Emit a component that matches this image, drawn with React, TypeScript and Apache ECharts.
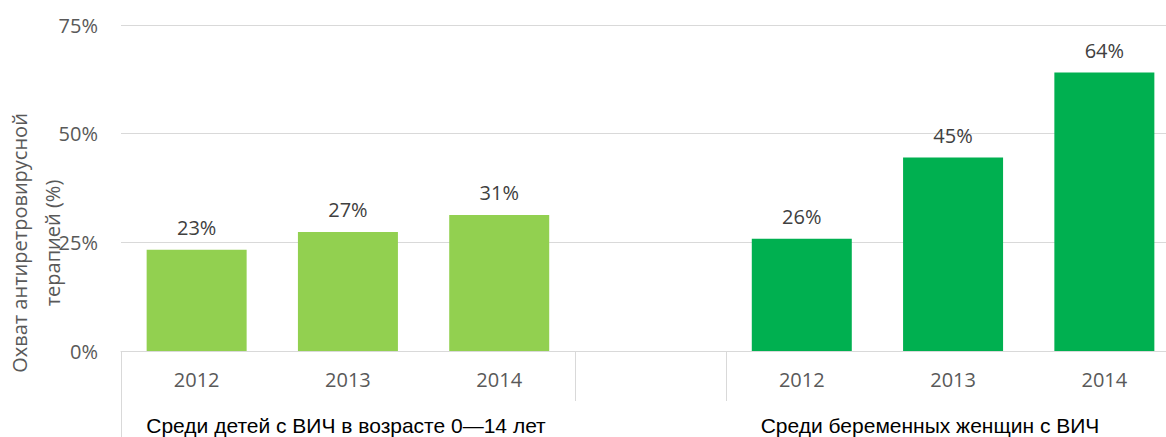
import React, { useEffect, useRef } from "react";
import * as echarts from "echarts";

const years = ["2012", "2013", "2014", "", "2012", "2013", "2014"];
const childrenValues = [23.3, 27.4, 31.3, "-", "-", "-", "-"];
const pregnantValues = ["-", "-", "-", "-", 25.8, 44.5, 64.1];
const groupLabels = ["Среди детей с ВИЧ в возрасте 0—14 лет", "Среди беременных женщин с ВИЧ"];
const yTitle = "Охват антиретровирусной\nтерапией (%)";
const yTicks = { min: 0, max: 75, interval: 25 };

export default function App() {
  const ref = useRef<HTMLDivElement>(null);
  useEffect(() => {
    if (!ref.current) return;
    const chart = echarts.init(ref.current, null, { renderer: "svg" });
    const labelStyle = {
      show: true,
      position: "top",
      distance: 12,
      color: "#404040",
      fontSize: 20,
      fontFamily: "Open Sans",
      formatter: (p: any) => Math.round(p.value) + "%",
    };
    chart.setOption({
      animation: false,
      grid: { left: 121, right: 0, top: 25, bottom: 86 },
      xAxis: [
        {
          type: "category",
          data: years,
          axisLine: { show: true, lineStyle: { color: "#d9d9d9", width: 1 } },
          axisTick: {
            show: true,
            length: 50,
            interval: (i: number) => i === 0 || i === 3 || i === 4,
            lineStyle: { color: "#d9d9d9", width: 1 },
          },
          axisLabel: {
            interval: 0,
            margin: 18,
            color: "#595959",
            fontSize: 20,
            fontFamily: "Open Sans",
          },
        },
        {
          type: "category",
          data: years,
          position: "bottom",
          axisLine: { show: false },
          axisTick: {
            show: true,
            length: 86,
            interval: (i: number) => i === 0,
            lineStyle: { color: "#d9d9d9", width: 1 },
          },
          axisLabel: { show: false },
        },
      ],
      yAxis: {
        type: "value",
        min: yTicks.min,
        max: yTicks.max,
        interval: yTicks.interval,
        axisLine: { show: false },
        axisTick: { show: false },
        splitLine: { lineStyle: { color: "#d9d9d9", width: 1 } },
        axisLabel: {
          formatter: "{value}%",
          margin: 23,
          color: "#595959",
          fontSize: 20,
          fontFamily: "Open Sans",
        },
      },
      series: [
        {
          type: "bar",
          stack: "s",
          barWidth: 100,
          data: childrenValues,
          itemStyle: { color: "#92D050" },
          label: labelStyle,
        },
        {
          type: "bar",
          stack: "s",
          barWidth: 100,
          data: pregnantValues,
          itemStyle: { color: "#00B050" },
          label: labelStyle,
        },
      ],
      graphic: [
        {
          type: "text",
          x: 36,
          y: 243,
          rotation: Math.PI / 2,
          style: {
            text: yTitle,
            align: "center",
            verticalAlign: "middle",
            fill: "#595959",
            fontSize: 20,
            lineHeight: 33,
            fontFamily: "Open Sans",
          },
        },
        {
          type: "text",
          x: 346,
          y: 425,
          style: {
            text: groupLabels[0],
            align: "center",
            verticalAlign: "middle",
            fill: "#000000",
            fontSize: 21,
            fontFamily: "Liberation Sans",
          },
        },
        {
          type: "text",
          x: 930,
          y: 425,
          style: {
            text: groupLabels[1],
            align: "center",
            verticalAlign: "middle",
            fill: "#000000",
            fontSize: 21,
            fontFamily: "Liberation Sans",
          },
        },
      ],
    });
    return () => chart.dispose();
  }, []);
  return (
    <div
      ref={ref}
      style={{ position: "fixed", left: 0, top: 0, width: 1180, height: 437, background: "#ffffff" }}
    />
  );
}
